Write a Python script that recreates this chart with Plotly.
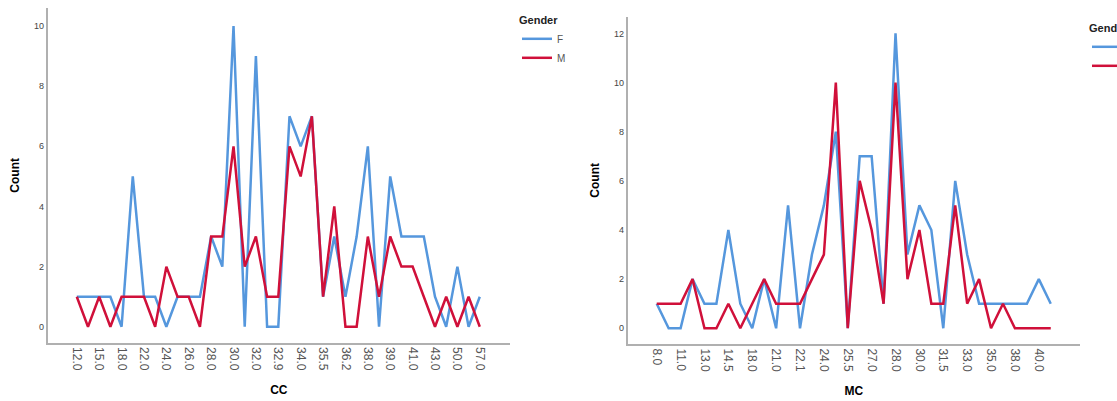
import plotly.graph_objects as go

# ---- Data ----
cc_categories = ["12.0", "14.0", "15.0", "16.0", "18.0", "20.0", "22.0", "23.0", "24.0", "25.0",
                 "26.0", "27.0", "28.0", "29.0", "30.0", "31.0", "32.0", "32.5", "32.9", "33.0",
                 "34.0", "35.0", "35.5", "36.0", "36.2", "37.0", "38.0", "38.5", "39.0", "40.0",
                 "41.0", "42.0", "43.0", "45.0", "50.0", "52.0", "57.0"]
cc_female = [1, 1, 1, 1, 0, 5, 1, 1, 0, 1, 1, 1, 3, 2, 10, 0, 9, 0, 0, 7,
             6, 7, 1, 3, 1, 3, 6, 0, 5, 3, 3, 3, 1, 0, 2, 0, 1]
cc_male = [1, 0, 1, 0, 1, 1, 1, 0, 2, 1, 1, 0, 3, 3, 6, 2, 3, 1, 1, 6,
           5, 7, 1, 4, 0, 0, 3, 1, 3, 2, 2, 1, 0, 1, 0, 1, 0]
cc_ticklabels = cc_categories[::2]

mc_categories = ["8.0", "10.0", "11.0", "12.0", "13.0", "14.0", "14.5", "16.0", "18.0", "20.0",
                 "21.0", "22.0", "22.1", "23.0", "24.0", "25.0", "25.5", "26.0", "27.0", "27.5",
                 "28.0", "29.0", "30.0", "31.0", "31.5", "32.0", "33.0", "34.0", "35.0", "36.0",
                 "38.0", "39.0", "40.0", "42.0"]
mc_female = [1, 0, 0, 2, 1, 1, 4, 1, 0, 2, 0, 5, 0, 3, 5, 8, 0, 7, 7, 1,
             12, 3, 5, 4, 0, 6, 3, 1, 1, 1, 1, 1, 2, 1]
mc_male = [1, 1, 1, 2, 0, 0, 1, 0, 1, 2, 1, 1, 1, 2, 3, 10, 0, 6, 4, 1,
           10, 2, 4, 1, 1, 5, 1, 2, 0, 1, 0, 0, 0, 0]
mc_ticklabels = mc_categories[::2]

BLUE = "#5597dd"
RED = "#d0103a"
FONT = "Liberation Sans"

fig = go.Figure()

fig.add_trace(go.Scatter(x=cc_categories, y=cc_female, mode="lines", name="F",
                         line=dict(color=BLUE, width=2.5), xaxis="x", yaxis="y", legend="legend"))
fig.add_trace(go.Scatter(x=cc_categories, y=cc_male, mode="lines", name="M",
                         line=dict(color=RED, width=2.5), xaxis="x", yaxis="y", legend="legend"))
fig.add_trace(go.Scatter(x=mc_categories, y=mc_female, mode="lines", name="F",
                         line=dict(color=BLUE, width=2.5), xaxis="x2", yaxis="y2", legend="legend2"))
fig.add_trace(go.Scatter(x=mc_categories, y=mc_male, mode="lines", name="M",
                         line=dict(color=RED, width=2.5), xaxis="x2", yaxis="y2", legend="legend2"))

W, H = 1117, 401

def xd(a, b):
    return [a / W, b / W]

def yd(top, bottom):
    return [1 - bottom / H, 1 - top / H]

xaxis_common = dict(type="category", showgrid=False, zeroline=False, showline=True,
                    linecolor="#b0b0b0", linewidth=2, ticks="", tickangle=90,
                    tickfont=dict(family=FONT, size=12, color="#555555"),
                    title_font=dict(family=FONT, size=12, color="#000000"),
                    automargin=False)
yaxis_common = dict(showgrid=False, zeroline=False, showline=True,
                    linecolor="#b0b0b0", linewidth=2, ticks="",
                    tickfont=dict(family=FONT, size=9, color="#444444"),
                    title_font=dict(family=FONT, size=12, color="#000000"),
                    dtick=2, automargin=False)

fig.update_layout(
    width=W, height=H,
    margin=dict(l=0, r=0, t=0, b=0, autoexpand=False),
    paper_bgcolor="white", plot_bgcolor="white",
    font=dict(family=FONT),
    xaxis=dict(xaxis_common, domain=xd(47.7, 510), anchor="y",
               range=[-2.6, 38.7], tickmode="array", tickvals=cc_ticklabels,
               ticktext=cc_ticklabels, title=dict(text="<b>CC</b>", standoff=16)),
    yaxis=dict(yaxis_common, domain=yd(8, 342.7), anchor="x",
               range=[-0.53, 10.6], title=dict(text="<b>Count</b>", standoff=12)),
    xaxis2=dict(xaxis_common, domain=xd(627.7, 1080), anchor="y2",
                range=[-2.43, 35.45], tickmode="array", tickvals=mc_ticklabels,
                ticktext=mc_ticklabels, title=dict(text="<b>MC</b>", standoff=16)),
    yaxis2=dict(yaxis_common, domain=yd(16.7, 344), anchor="x2",
                range=[-0.64, 12.68], title=dict(text="<b>Count</b>", standoff=12)),
    legend=dict(x=517 / W, y=1 - 10 / H, xanchor="left", yanchor="top",
                title=dict(text="<b>Gender</b>", font=dict(family=FONT, size=11, color="#222")),
                font=dict(family=FONT, size=10, color="#555"), bgcolor="rgba(0,0,0,0)",
                itemwidth=30, tracegroupgap=0),
    legend2=dict(x=1087 / W, y=1 - 18 / H, xanchor="left", yanchor="top",
                 title=dict(text="<b>Gender</b>", font=dict(family=FONT, size=11, color="#222")),
                 font=dict(family=FONT, size=10, color="#555"), bgcolor="rgba(0,0,0,0)",
                 itemwidth=30, tracegroupgap=0),
)

fig.write_html("out.html", config={"displayModeBar": False},
               post_script="document.body.style.margin='0px';")
